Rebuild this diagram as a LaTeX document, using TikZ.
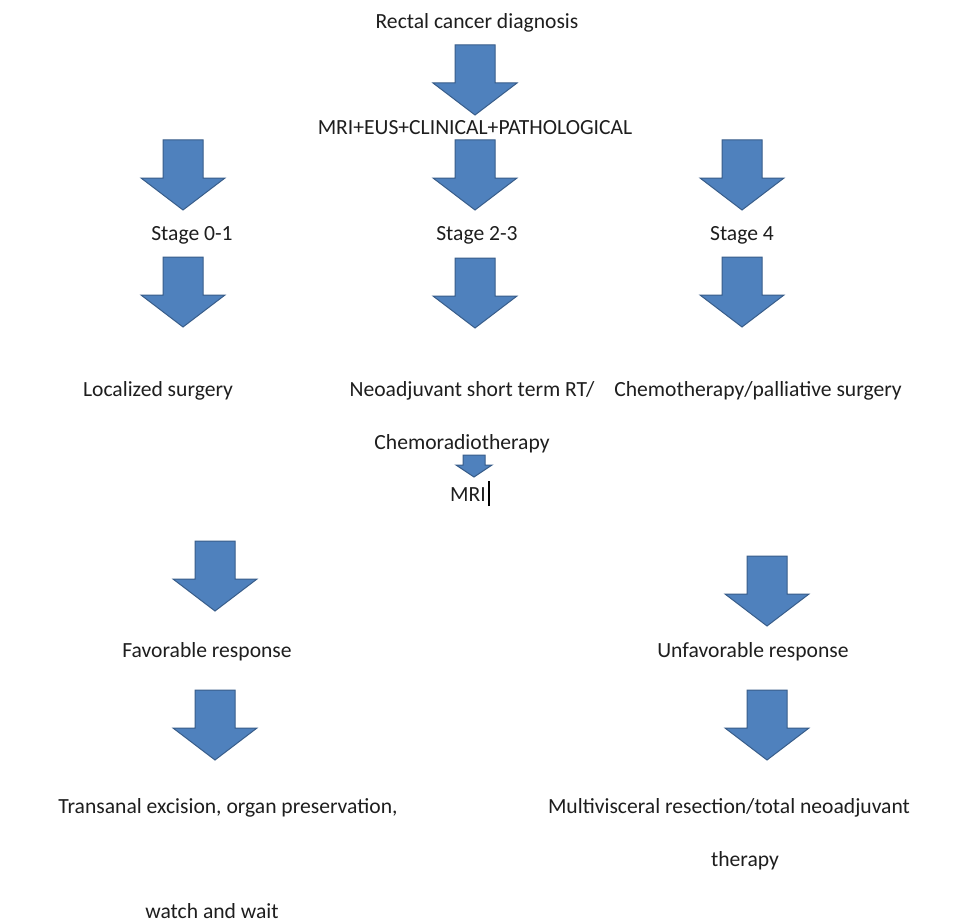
\documentclass[tikz,border=0pt]{standalone}
\usepackage{fontspec}
\setmainfont{Carlito}
\definecolor{arfill}{RGB}{79,129,189}
\definecolor{arline}{RGB}{56,93,138}
\definecolor{txt}{RGB}{30,30,30}
\tikzset{
  arrowshape/.style={fill=arfill, draw=arline, line width=1pt, line join=miter},
  lbl/.style={font=\fontsize{21.6}{25}\selectfont, text=txt, inner sep=0pt, anchor=base},
  pics/barrow/.style={code={
    \draw[arrowshape] (-20,0) -- (20,0) -- (20,38) -- (42,38) -- (0,70) -- (-42,38) -- (-20,38) -- cycle;
  }},
  pics/sarrow/.style={code={
    \draw[arrowshape] (-11,0) -- (11,0) -- (11,10) -- (18,10) -- (0,22) -- (-18,10) -- (-11,10) -- cycle;
  }}
}
\begin{document}
\begin{tikzpicture}[x=1pt,y=-1pt]
\useasboundingbox (0,0) rectangle (953,923);
\fill[white] (0,0) rectangle (953,923);
% text
\node[lbl] (diag) at (477,29) {Rectal cancer diagnosis};
\node[lbl] (mri1) at (475,135) {MRI+EUS+CLINICAL+PATHOLOGICAL};
\node[lbl] (s01) at (192,240) {Stage 0-1};
\node[lbl] (s23) at (477,240) {Stage 2-3};
\node[lbl] (s4) at (742,240) {Stage 4};
\node[lbl] (loc) at (158,396) {Localized surgery};
\node[lbl] (neo) at (472,396) {Neoadjuvant short term RT/};
\node[lbl] (chemo) at (758,396) {Chemotherapy/palliative surgery};
\node[lbl] (crt) at (462,449) {Chemoradiotherapy};
\node[lbl] (mri2) at (468,501) {MRI};
\draw[line width=1.2pt, black] (mri2.base east) ++(3,5) -- ++(0,-25);
\node[lbl] (fav) at (207,657) {Favorable response};
\node[lbl] (unfav) at (753,657) {Unfavorable response};
\node[lbl] (trans) at (228,813) {Transanal excision, organ preservation,};
\node[lbl] (multi) at (729,813) {Multivisceral resection/total neoadjuvant};
\node[lbl] (ther) at (745,866) {therapy};
\node[lbl] (watch) at (212,918) {watch and wait};
% arrows
\pic at (475,45) {barrow};
\pic at (183,140) {barrow};
\pic at (475,140) {barrow};
\pic at (742,140) {barrow};
\pic at (183,257) {barrow};
\pic at (475,258) {barrow};
\pic at (742,257) {barrow};
\pic at (474,455) {sarrow};
\pic at (215,541) {barrow};
\pic at (767,556) {barrow};
\pic at (215,690) {barrow};
\pic at (767,690) {barrow};
\end{tikzpicture}
\end{document}
